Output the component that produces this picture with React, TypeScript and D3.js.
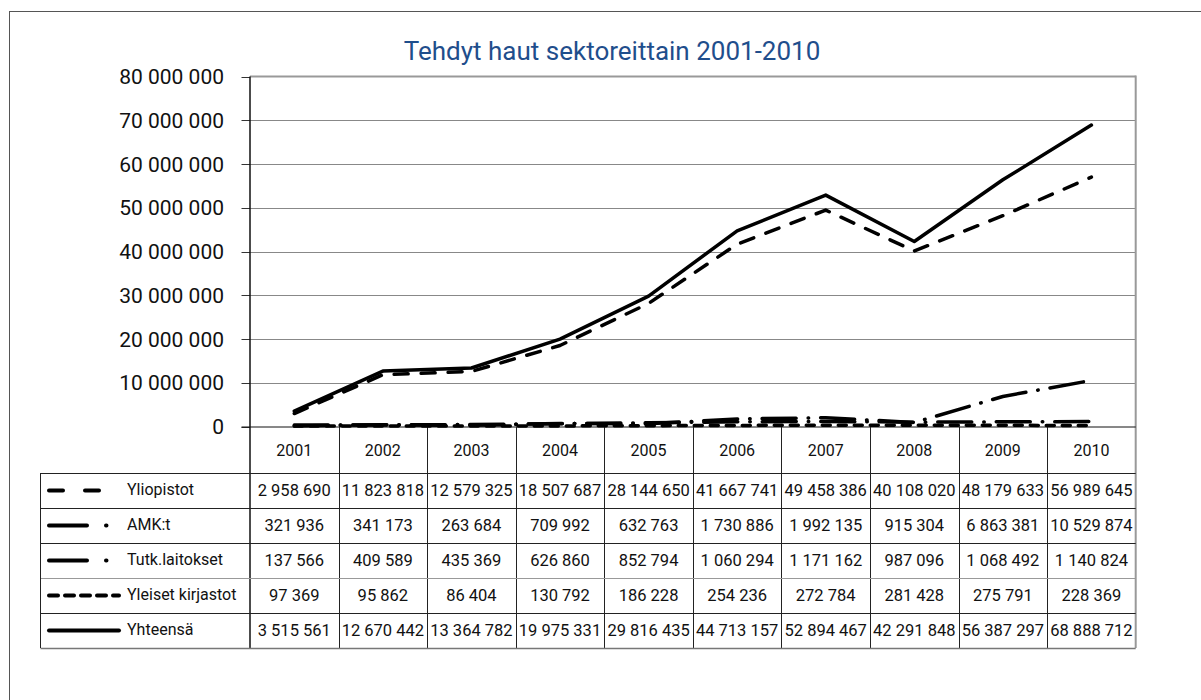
import React from "react";
import * as d3 from "d3";

const years = ["2001", "2002", "2003", "2004", "2005", "2006", "2007", "2008", "2009", "2010"];
const seriesNames = ["Yliopistot", "AMK:t", "Tutk.laitokset", "Yleiset kirjastot", "Yhteensä"];
const yliopistot = [2958690, 11823818, 12579325, 18507687, 28144650, 41667741, 49458386, 40108020, 48179633, 56989645];
const amk = [321936, 341173, 263684, 709992, 632763, 1730886, 1992135, 915304, 6863381, 10529874];
const tutk = [137566, 409589, 435369, 626860, 852794, 1060294, 1171162, 987096, 1068492, 1140824];
const yleiset = [97369, 95862, 86404, 130792, 186228, 254236, 272784, 281428, 275791, 228369];
const yhteensa = [3515561, 12670442, 13364782, 19975331, 29816435, 44713157, 52894467, 42291848, 56387297, 68888712];
const yTicks = [0, 10000000, 20000000, 30000000, 40000000, 50000000, 60000000, 70000000, 80000000];

const seriesValues = [yliopistot, amk, tutk, yleiset, yhteensa];
const dashes = ["14 13", "34 12 0.5 12", "34 12 0.5 12", "8 8", ""];
const legendDashes = ["14 22", "38 19 0.5 40", "38 19 0.5 40", "9 7", ""];

const FONT = "Roboto, 'Open Sans', Arial, sans-serif";

const fmt = (v: number) => d3.format(",")(v).replace(/,/g, " ");

export default function App() {
  const W = 1201, H = 700;
  const left = 250, right = 1135.7, top = 76.5, bottom = 426.5;
  const x = d3.scaleBand<string>().domain(years).range([left, right]).padding(0);
  const y = d3.scaleLinear().domain([0, 80000000]).range([bottom, top]);
  const line = d3
    .line<number>()
    .x((_, i) => (x(years[i]) as number) + x.bandwidth() / 2)
    .y((d) => y(d));

  const tableLeft = 40.5;
  const headerBottom = 473;
  const rowH = 35;
  const tableBottom = headerBottom + rowH * seriesNames.length;

  return (
    <svg width={W} height={H} style={{ display: "block", position: "absolute", left: 0, top: 0 }} fontFamily={FONT}>
      <rect x={0} y={0} width={W} height={H} fill="#fff" />
      <rect x={9.5} y={11.5} width={1300} height={800} fill="none" stroke="#555" strokeWidth={1} />
      <text x={612} y={60} textAnchor="middle" fontSize={26} fill="#1f4e8c">
        Tehdyt haut sektoreittain 2001-2010
      </text>

      {/* gridlines and y ticks */}
      {yTicks.map((t) => (
        <g key={t}>
          {t > 0 && t < 80000000 && (
            <line x1={left} x2={right} y1={Math.round(y(t)) + 0.5} y2={Math.round(y(t)) + 0.5} stroke="#888" strokeWidth={1} />
          )}
          <line x1={241.5} x2={left} y1={Math.round(y(t)) + 0.5} y2={Math.round(y(t)) + 0.5} stroke="#333" strokeWidth={1} />
          <text x={224} y={y(t)} dy="0.36em" textAnchor="end" fontSize={21} fill="#111">
            {fmt(t)}
          </text>
        </g>
      ))}
      {/* plot border */}
      <line x1={left} x2={right} y1={top} y2={top} stroke="#999" strokeWidth={2} />
      <line x1={right} x2={right} y1={top - 1} y2={tableBottom} stroke="#999" strokeWidth={2} />
      <line x1={left} x2={left} y1={top} y2={tableBottom} stroke="#111" strokeWidth={1.5} />
      <line x1={241.5} x2={right} y1={bottom + 0.5} y2={bottom + 0.5} stroke="#111" strokeWidth={1} />

      {/* table */}
      {years.map((yr, i) => {
        const x0 = x(yr) as number;
        return (
          <g key={yr}>
            {i > 0 && (
              <line x1={Math.round(x0) + 0.5} x2={Math.round(x0) + 0.5} y1={bottom} y2={tableBottom} stroke="#222" strokeWidth={1} />
            )}
            <text x={x0 + x.bandwidth() / 2} y={(bottom + headerBottom) / 2} dy="0.36em" textAnchor="middle" fontSize={16} fill="#111">
              {yr}
            </text>
          </g>
        );
      })}
      {seriesNames.map((name, r) => {
        const ry = headerBottom + r * rowH;
        const cy = ry + rowH / 2;
        return (
          <g key={name}>
            <line x1={tableLeft} x2={right} y1={ry + 0.5} y2={ry + 0.5} stroke={r === 3 ? "#999" : "#222"} strokeWidth={1} />
            <line
              x1={49}
              x2={r === 1 || r === 2 ? 108 : 119}
              y1={cy}
              y2={cy}
              stroke="#000"
              strokeWidth={4}
              strokeLinecap="round"
              strokeDasharray={legendDashes[r] || undefined}
            />
            <text x={127} y={cy - 1} dy="0.36em" fontSize={16} fill="#111">
              {name}
            </text>
            {seriesValues[r].map((v, i) => (
              <text
                key={i}
                x={(x(years[i]) as number) + x.bandwidth() / 2}
                y={cy}
                dy="0.36em"
                textAnchor="middle"
                fontSize={16.5}
                fill="#111"
              >
                {fmt(v)}
              </text>
            ))}
          </g>
        );
      })}
      <line x1={tableLeft} x2={right} y1={tableBottom + 0.5} y2={tableBottom + 0.5} stroke="#777" strokeWidth={1.5} />
      <line x1={tableLeft} x2={tableLeft} y1={headerBottom} y2={tableBottom} stroke="#222" strokeWidth={1} />

      {/* series lines */}
      {seriesValues.map((vals, s) => (
        <path
          key={seriesNames[s]}
          d={line(vals) as string}
          fill="none"
          stroke="#000"
          strokeWidth={3.5}
          strokeLinecap="round"
          strokeLinejoin="round"
          strokeDasharray={dashes[s] || undefined}
        />
      ))}
    </svg>
  );
}
